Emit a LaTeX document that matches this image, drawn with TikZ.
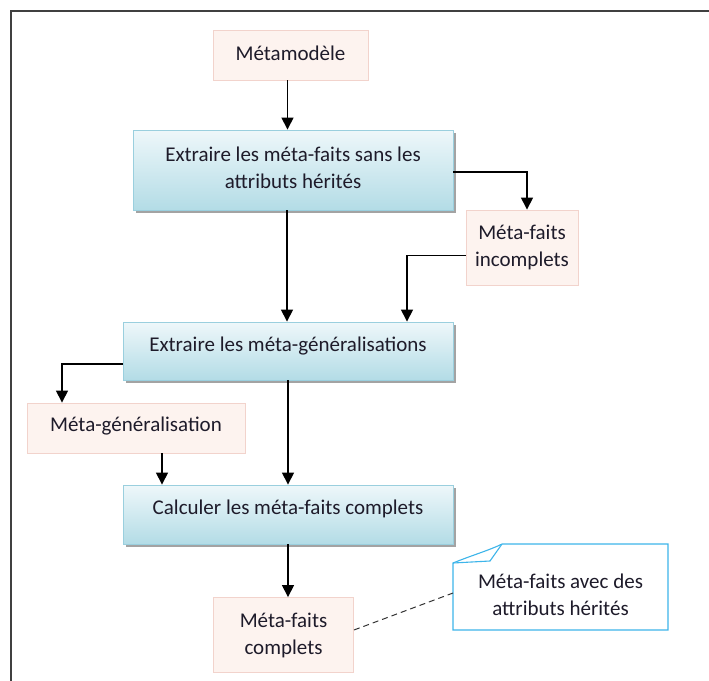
\documentclass[tikz,border=0pt]{standalone}
\usepackage{fontspec}
\setmainfont{Carlito}
\usetikzlibrary{arrows.meta,shadows}

\definecolor{procTop}{HTML}{EEF7FA}
\definecolor{procBot}{HTML}{B3DCE6}
\definecolor{procLine}{HTML}{9ACFDE}
\definecolor{dataFill}{HTML}{FDF3EF}
\definecolor{dataLine}{HTML}{F2D3CC}
\definecolor{noteLine}{HTML}{3DB5EA}
\definecolor{frameLine}{HTML}{404040}
\definecolor{txt}{HTML}{1E1B2A}

\tikzset{
  every node/.style={font=\fontsize{21}{27}\selectfont, text=txt, align=center, inner sep=0pt},
  procbox/.style={draw=procLine, line width=0.9pt, top color=procTop, bottom color=procBot,
    drop shadow={shadow xshift=3pt, shadow yshift=-3pt, fill=black!45, opacity=0.8}},
  databox/.style={draw=dataLine, line width=0.9pt, fill=dataFill},
  arr/.style={draw=black, line width=1.5pt, -{Triangle[width=12pt,length=12pt]}},
  link/.style={draw=black!80, line width=1pt, dashed, dash pattern=on 6pt off 4pt}
}

\begin{document}
\begin{tikzpicture}[x=1pt, y=-1pt]
  \useasboundingbox (0,0) rectangle (709,680);

  % open outer frame
  \draw[frameLine, line width=2pt] (11,682) -- (11,11) -- (711,11);

  % data items
  \node[databox, minimum width=155pt, minimum height=50pt] (mm) at (290.5,55) {};
  \node (mmText) at ([yshift=2pt]mm) {Métamodèle};
  \node[databox, minimum width=112pt, minimum height=75pt] (inc) at (522,247.5) {Méta-faits\\incomplets};
  \node[databox, minimum width=218pt, minimum height=50pt] (mg) at (136,428) {};
  \node (mgText) at ([yshift=2pt]mg) {Méta-généralisation};
  \node[databox, minimum width=140pt, minimum height=75pt] (mc) at (283.5,635) {Méta-faits\\complets};

  % processing steps
  \node[procbox, minimum width=320pt, minimum height=80pt] (b1) at (293,170) {};
  \node (b1Text) at ([yshift=2pt]b1) {Extraire les méta-faits sans les\\attributs hérités};
  \node[procbox, minimum width=330pt, minimum height=58pt] (b2) at (288,351) {};
  \node (b2Text) at ([yshift=5pt]b2) {Extraire les méta-généralisations};
  \node[procbox, minimum width=330pt, minimum height=59pt] (b3) at (288,514.5) {};
  \node (b3Text) at ([yshift=6pt]b3) {Calculer les méta-faits complets};

  % note with folded corner
  \coordinate (nA) at (502,544);
  \coordinate (nB) at (453,563);
  \coordinate (nC) at (490,561);
  \draw[noteLine, line width=1.1pt, fill=white]
    (nA) -- (668,544) -- (668,630) -- (453,630) -- (nB) .. controls (470,556) and (490,550) .. (nA);
  \draw[noteLine, line width=1.1pt] (nB) -- (nC) -- (nA);
  \node (note) at (560.5,595) {Méta-faits avec des\\attributs hérités};
  \coordinate (noteL) at (453,593);

  % flow
  \draw[arr] ([xshift=-3pt]mm.south) -- ([xshift=-3pt]mm.south |- b1.north);
  \draw[arr] ([yshift=-2pt]b1.east) -| ([xshift=5pt]inc.north);
  \draw[arr] ([xshift=-6pt]b1.south) -- ([xshift=-6pt]b1.south |- b2.north);
  \draw[arr] ([yshift=-8pt]inc.west) -| ([xshift=119pt]b2.north);
  \draw[arr] ([yshift=-13pt]b2.west) -| ([xshift=-74pt]mg.north);
  \draw[arr] ([xshift=26pt]mg.south) -- ([xshift=26pt]mg.south |- b3.north);
  \draw[arr] (b2.south) -- (b3.north);
  \draw[arr] (b3.south) -- (b3.south |- mc.north);
  \draw[link] ([yshift=5pt]mc.east) -- (noteL);
\end{tikzpicture}
\end{document}
